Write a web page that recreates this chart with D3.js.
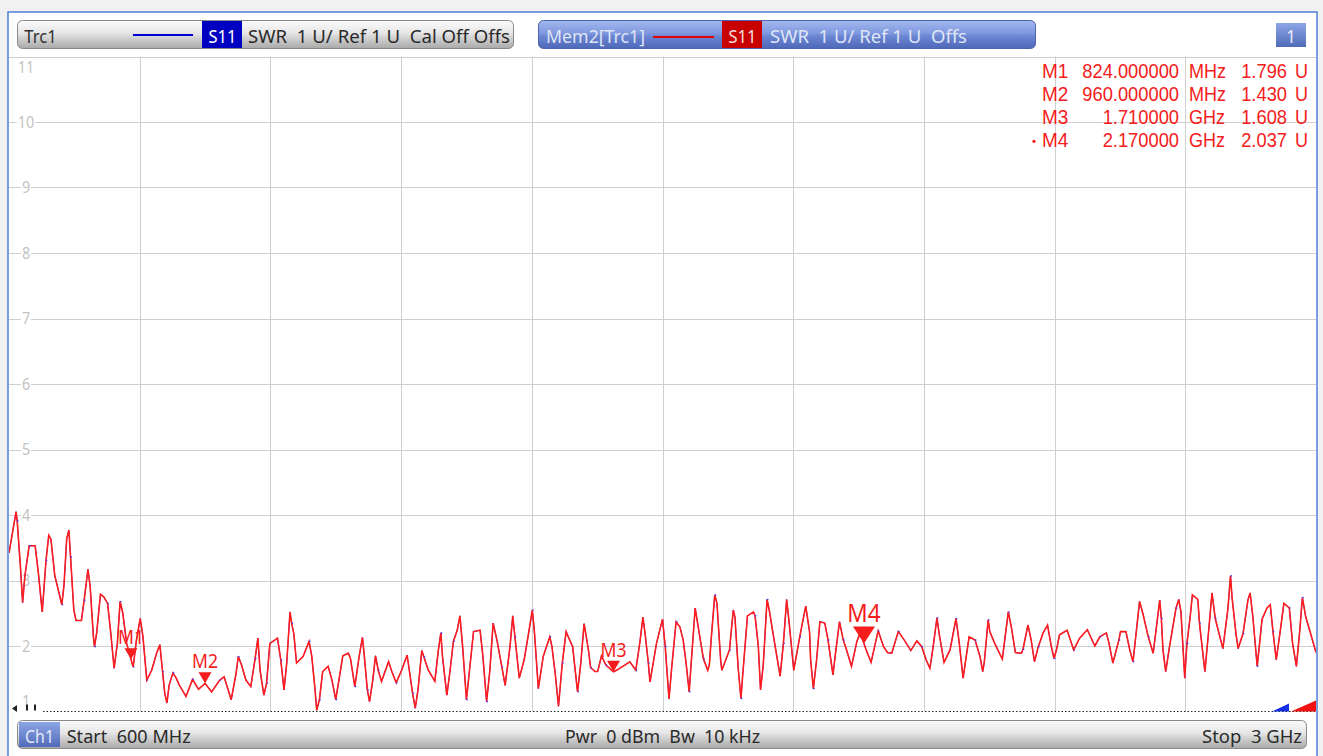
<!DOCTYPE html>
<html><head><meta charset="utf-8">
<script src="https://cdn.jsdelivr.net/npm/d3@7"></script>
<style>
html,body{margin:0;padding:0;background:#f1f1f1;}
svg{display:block;font-family:"Noto Sans","Open Sans",sans-serif;}
text{white-space:pre;}
</style></head>
<body>
<svg id="chart" width="1323" height="756"></svg>
<script>
// ---- data ----
const freqMHz = [600,613,615,621,625,629,637,648,654,661,668,673,677,684,697,701,706,710,713,719,723,733,738,745,749,755,757,761,768,774,781,787,793,799,804,809,816,824,828,834,841,846,853,862,871,877,882,886,890,894,901,907,913,925,937,948,960,972,987,995,1008,1017,1021,1027,1035,1044,1052,1057,1061,1068,1073,1079,1088,1093,1099,1105,1110,1116,1119,1123,1128,1140,1151,1156,1162,1165,1170,1176,1186,1193,1200,1213,1223,1227,1235,1243,1249,1252,1258,1262,1268,1273,1278,1284,1297,1303,1311,1321,1331,1336,1341,1346,1351,1358,1362,1370,1382,1388,1393,1396,1404,1410,1416,1423,1428,1433,1440,1453,1465,1470,1477,1483,1489,1496,1505,1511,1520,1525,1529,1537,1546,1554,1561,1565,1572,1581,1593,1597,1603,1609,1616,1623,1627,1635,1644,1650,1656,1664,1668,1676,1681,1688,1696,1710,1718,1740,1751,1759,1764,1768,1774,1777,1789,1800,1805,1809,1812,1817,1825,1832,1838,1843,1849,1852,1860,1863,1875,1883,1886,1890,1896,1900,1907,1909,1923,1930,1933,1939,1944,1948,1956,1967,1970,1976,1980,1985,1992,1996,2003,2016,2022,2028,2033,2041,2052,2063,2070,2072,2077,2083,2089,2098,2104,2113,2118,2125,2132,2138,2147,2157,2164,2170,2174,2183,2196,2206,2213,2221,2233,2244,2256,2267,2276,2284,2291,2297,2304,2308,2317,2328,2339,2345,2352,2363,2374,2383,2388,2391,2398,2401,2410,2424,2435,2441,2448,2459,2462,2471,2477,2483,2490,2499,2507,2514,2519,2524,2529,2543,2555,2566,2580,2594,2603,2615,2620,2627,2638,2641,2651,2658,2664,2670,2676,2682,2692,2701,2707,2713,2716,2719,2724,2731,2743,2748,2752,2759,2763,2769,2773,2783,2786,2796,2803,2809,2815,2829,2838,2840,2843,2846,2853,2857,2866,2875,2879,2884,2892,2901,2910,2916,2921,2927,2935,2941,2951,2957,2964,2970,2975,2981,2989,3000];
const swrMem2 = [3.42,4.05,3.91,3.21,2.66,3.06,3.53,3.53,3.11,2.52,3.31,3.69,3.63,3.08,2.63,2.93,3.64,3.77,3.36,2.55,2.39,2.39,2.70,3.17,2.91,2.14,1.99,2.20,2.79,2.75,2.65,2.19,1.66,2.04,2.68,2.50,2.04,1.796,1.68,2.09,2.42,2.14,1.48,1.63,1.89,2.02,1.61,1.28,1.13,1.40,1.59,1.51,1.40,1.23,1.49,1.34,1.43,1.30,1.48,1.53,1.18,1.58,1.84,1.71,1.48,1.38,1.81,2.12,1.63,1.25,1.43,2.04,2.09,2.12,1.79,1.33,1.74,2.52,2.35,2.19,1.74,1.84,2.07,1.84,1.33,1.02,1.18,1.61,1.69,1.48,1.18,1.85,1.89,1.81,1.38,1.84,2.13,1.89,1.33,1.15,1.48,1.85,1.63,1.46,1.76,1.61,1.44,1.63,1.86,1.58,1.28,1.05,1.33,1.93,1.83,1.63,1.46,1.91,2.20,1.84,1.25,1.63,2.07,2.24,2.46,1.99,1.18,2.22,2.24,1.86,1.15,1.63,2.35,2.09,1.68,1.40,1.99,2.46,2.14,1.51,1.79,2.19,2.55,2.19,1.35,1.84,2.14,1.99,1.58,1.08,1.74,2.22,2.14,1.99,1.30,1.74,2.34,1.94,1.67,1.61,1.61,1.85,1.71,1.608,1.64,1.76,1.63,2.09,2.44,2.19,1.74,1.45,2.04,2.41,1.99,1.53,1.19,1.68,2.37,2.29,2.09,1.76,1.30,1.66,2.58,2.42,1.81,1.63,1.71,2.17,2.78,2.65,1.76,1.63,1.94,2.55,2.44,1.66,1.20,1.63,2.46,2.52,2.46,1.99,1.33,1.71,2.71,2.55,2.19,1.54,2.04,2.71,2.32,1.63,2.14,2.61,2.22,1.79,1.35,1.79,2.37,2.35,2.09,1.56,1.91,2.37,2.09,1.94,1.69,2.07,2.22,2.037,1.94,1.75,2.23,1.99,1.90,1.89,2.22,2.09,1.93,2.08,1.99,1.79,1.66,1.99,2.43,2.19,1.75,1.94,2.42,2.04,1.51,2.14,2.09,1.84,1.61,1.76,2.40,2.22,2.04,1.80,2.52,2.27,1.90,1.89,1.95,2.32,2.09,1.76,1.99,2.20,2.32,1.99,1.81,1.96,2.17,2.24,1.94,2.12,2.25,2.00,2.14,2.20,2.04,1.74,2.09,2.22,2.22,1.94,1.76,2.22,2.68,2.50,2.14,1.89,2.29,2.70,2.42,1.94,1.61,1.99,2.58,2.71,2.52,1.51,2.04,2.45,2.78,2.71,2.35,1.61,2.24,2.81,2.42,1.96,2.55,2.75,3.07,2.73,2.19,1.96,2.19,2.70,2.81,2.45,1.69,2.41,2.58,2.63,2.22,1.79,2.27,2.65,2.58,2.04,1.69,2.22,2.74,2.45,2.22,1.90];
const swrTrc1 = swrMem2; // live trace coincides with memory trace

const yTicks = [1,2,3,4,5,6,7,8,9,10,11];
const xGridMHz = [600,840,1080,1320,1560,1800,2040,2280,2520,2760,3000];

const markerNames = ["M1","M2","M3","M4"];
const markerFreqMHz = [824,960,1710,2170];
const markerSwr = [1.796,1.430,1.608,2.037];
const markerFreqText = ["824.000000","960.000000","1.710000","2.170000"];
const markerUnitText = ["MHz","MHz","GHz","GHz"];
const activeMarker = "M4";

const headerTrc = {name:"Trc1", param:"S11", text:"SWR  1 U/ Ref 1 U  Cal Off Offs"};
const headerMem = {name:"Mem2[Trc1]", param:"S11", text:"SWR  1 U/ Ref 1 U  Offs"};
const footerTexts = ["Start  600 MHz","Pwr  0 dBm  Bw  10 kHz","Stop  3 GHz"];

// ---- drawing ----
const svg = d3.select("#chart");
const L=9, R=1316, T=56.5, B=711.5;
const x = d3.scaleLinear().domain([600,3000]).range([L,R]);
const y = d3.scaleLinear().domain([1,11]).range([B,T]);

// condensed text helper: natural text squeezed horizontally
function ctext(g, str, o){
  const t = g.append("text").attr("x",0).attr("y",o.y).attr("font-size",o.size).attr("fill",o.fill).text(str);
  if (o.family) t.attr("font-family", o.family);
  const nat = t.node().getComputedTextLength();
  const w = o.width != null ? o.width : nat*(o.k||0.88);
  t.attr("textLength",w).attr("lengthAdjust","spacingAndGlyphs");
  const a = o.anchor||"start";
  t.attr("x", a==="end" ? o.x-w : a==="middle" ? o.x-w/2 : o.x);
  return t;
}

const defs = svg.append("defs");
function grad(id, stops){
  const g = defs.append("linearGradient").attr("id",id).attr("x1",0).attr("y1",0).attr("x2",0).attr("y2",1);
  stops.forEach(s=>g.append("stop").attr("offset",s[0]).attr("stop-color",s[1]));
}
grad("gGray",[[0,"#fbfbfb"],[0.45,"#e6e6e6"],[0.55,"#d9d9d9"],[1,"#a9a9a9"]]);
grad("gBlue",[[0,"#a3b9ef"],[0.45,"#8099df"],[0.55,"#6c87d3"],[1,"#4e68b8"]]);
grad("gBlueS",[[0,"#8ea6e6"],[1,"#4f6ab8"]]);
defs.append("clipPath").attr("id","plotClip").append("rect")
  .attr("x",L).attr("y",T-1).attr("width",R-L).attr("height",B-T+2);

// frame
svg.append("rect").attr("x",8).attr("y",12).attr("width",1309).attr("height",760)
  .attr("fill","#ffffff").attr("stroke","#4f7fd6").attr("stroke-width",1.5);

// grid
const grid = svg.append("g");
grid.selectAll("line.v").data(xGridMHz.slice(1,-1)).join("line")
  .attr("x1",d=>Math.round(x(d))+0.5).attr("x2",d=>Math.round(x(d))+0.5)
  .attr("y1",T).attr("y2",B).attr("stroke","#cfcfcf").attr("stroke-width",1);
grid.selectAll("line.h").data(yTicks.filter(d=>d>1)).join("line")
  .attr("x1",L).attr("x2",R)
  .attr("y1",d=>Math.round(y(d))+0.5).attr("y2",d=>Math.round(y(d))+0.5)
  .attr("stroke","#cfcfcf").attr("stroke-width",1);
// reference line at 1 U (dotted)
svg.append("line").attr("x1",L+34).attr("x2",R).attr("y1",Math.round(y(1))-0.5).attr("y2",Math.round(y(1))-0.5)
  .attr("stroke","#222").attr("stroke-width",1).attr("stroke-dasharray","1.5,2");

// y labels with white background
const yl = svg.append("g").attr("clip-path","url(#plotClip)");
yTicks.forEach(d=>{
  let yy = y(d);
  if (d===11) yy = y(d)+11;
  if (d===1) yy = y(d)-10;
  const t = ctext(yl, String(d), {x:26, y:yy, size:16, fill:"#c4c4c4", anchor:"middle", k:0.9}).attr("dy","0.36em");
  const bb = t.node().getBBox();
  yl.insert("rect","text").attr("x",bb.x-1).attr("y",bb.y+3).attr("width",bb.width+2).attr("height",bb.height-6).attr("fill","#fff");
});
// ref indicator symbols at bottom-left
svg.append("path").attr("d",`M${L+3},${B-3} l5,-3.5 v7 z`).attr("fill","#222");
svg.append("rect").attr("x",L+17).attr("y",B-7).attr("width",2).attr("height",6).attr("fill","#222");
svg.append("rect").attr("x",L+25).attr("y",B-7).attr("width",2).attr("height",6).attr("fill","#222");

// traces
const pts = freqMHz.map((f,i)=>[f, swrTrc1[i]]);
const ptsMem = freqMHz.map((f,i)=>[f, swrMem2[i]]);
const line = d3.line().x(d=>x(d[0])).y(d=>y(d[1]));
const tg = svg.append("g").attr("clip-path","url(#plotClip)");
tg.append("path").datum(pts).attr("d",line).attr("fill","none").attr("stroke","#2020ff").attr("stroke-width",1);
tg.append("path").datum(ptsMem).attr("d",line).attr("fill","none").attr("stroke","#ff1e1e").attr("stroke-width",1.6)
  .attr("stroke-linejoin","miter");
tg.selectAll("circle.pt").data(pts.filter((d,i)=>i%4===2)).join("circle")
  .attr("cx",d=>x(d[0])+0.7).attr("cy",d=>y(d[1])).attr("r",0.8).attr("fill","#4040ff");

// out-of-range indicators (bottom right)
svg.append("path").attr("d",`M1272,${B} L1289,${B} L1289,${B-8} Z`).attr("fill","#1530e0");
svg.append("path").attr("d",`M1291,${B} L1316,${B} L1316,${B-11} Z`).attr("fill","#f21010");

// markers
const red="#f41c1c";
const mg = svg.append("g");
markerNames.forEach((m,i)=>{
  const mx = x(markerFreqMHz[i]), my = y(markerSwr[i]);
  const act = m===activeMarker;
  const w = act?22:13, h = act?17:11;
  mg.append("path").attr("d",`M${mx},${my} L${mx-w/2},${my-h} L${mx+w/2},${my-h} Z`).attr("fill",red);
  ctext(mg, m, {x:mx, y:my-h-(act?5:4), size:act?25:19.5, fill:red, anchor:"middle", k:0.9});
});

// marker table (compact line-box font so rows do not collide)
const mt = svg.append("g");
const tf = "'Liberation Sans', Arial, sans-serif";
markerNames.forEach((m,i)=>{
  const yy = 78.3 + i*23;
  const o = {size:20, fill:red, k:0.915, y:yy, family:tf};
  if (m===activeMarker) mt.append("circle").attr("cx",1034).attr("cy",yy-6).attr("r",1.6).attr("fill",red);
  ctext(mt, m, {...o, x:1042, k:0.95});
  ctext(mt, markerFreqText[i], {...o, x:1179, anchor:"end"});
  ctext(mt, markerUnitText[i], {...o, x:1189, k:0.9});
  ctext(mt, markerSwr[i].toFixed(3), {...o, x:1287, anchor:"end"});
  ctext(mt, "U", {...o, x:1295, k:0.9});
});

// header bars
const h1 = svg.append("g");
h1.append("rect").attr("x",17.5).attr("y",20.5).attr("width",496).attr("height",28).attr("rx",5)
  .attr("fill","url(#gGray)").attr("stroke","#8a8a8a");
ctext(h1, headerTrc.name, {x:24.3, y:43.3, size:18.5, fill:"#333", width:32.4});
h1.append("line").attr("x1",133).attr("x2",193).attr("y1",35).attr("y2",35).attr("stroke","#0000d0").attr("stroke-width",2);
h1.append("rect").attr("x",202).attr("y",21).attr("width",40).attr("height",27).attr("fill","#0000c0");
ctext(h1, headerTrc.param, {x:222.5, y:43.3, size:18.5, fill:"#fff", anchor:"middle", width:28});
ctext(h1, headerTrc.text, {x:248, y:43.3, size:18.5, fill:"#2a2a2a", width:262});

const h2 = svg.append("g");
h2.append("rect").attr("x",538.5).attr("y",20.5).attr("width",497).attr("height",28).attr("rx",5)
  .attr("fill","url(#gBlue)").attr("stroke","#4c64ad");
ctext(h2, headerMem.name, {x:546, y:43.3, size:18.5, fill:"#dfe5f5", width:99});
h2.append("line").attr("x1",653).attr("x2",714).attr("y1",37).attr("y2",37).attr("stroke","#e00000").attr("stroke-width",2);
h2.append("rect").attr("x",722).attr("y",21).attr("width",40).attr("height",27).attr("fill","#c80000");
ctext(h2, headerMem.param, {x:742.5, y:43.3, size:18.5, fill:"#f4dede", anchor:"middle", width:28});
ctext(h2, headerMem.text, {x:770, y:43.3, size:18.5, fill:"#dfe5f5", width:197});

svg.append("rect").attr("x",1276).attr("y",23).attr("width",30).attr("height",24).attr("fill","url(#gBlueS)");
ctext(svg, "1", {x:1291, y:43, size:18.5, fill:"#e8eefc", anchor:"middle", k:0.9});

// footer bar
const fb = svg.append("g");
fb.append("rect").attr("x",17.5).attr("y",720.5).attr("width",1289).attr("height",28).attr("rx",5)
  .attr("fill","url(#gGray)").attr("stroke","#8a8a8a");
fb.append("rect").attr("x",19).attr("y",722).attr("width",41).attr("height",25).attr("fill","url(#gBlueS)");
ctext(fb, "Ch1", {x:39.5, y:742.7, size:18, fill:"#e4eafa", anchor:"middle", width:29});
ctext(fb, footerTexts[0], {x:66.7, y:742.7, size:18, fill:"#2a2a2a", width:124});
ctext(fb, footerTexts[1], {x:565, y:742.7, size:18, fill:"#2a2a2a", width:195});
ctext(fb, footerTexts[2], {x:1302, y:742.7, size:18, fill:"#2a2a2a", anchor:"end", width:100});
</script>
</body></html>
